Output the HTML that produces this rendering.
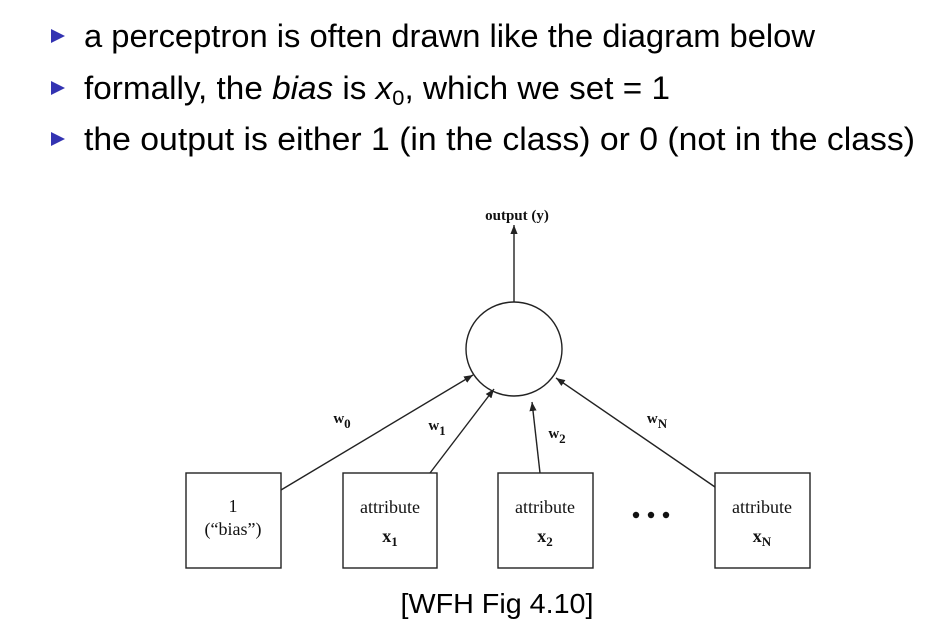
<!DOCTYPE html>
<html><head><meta charset="utf-8"><style>
html,body{margin:0;padding:0;background:#fff;}
svg{display:block;}
</style></head><body>
<svg width="948" height="624" viewBox="0 0 948 624" xmlns="http://www.w3.org/2000/svg">
<defs>
<marker id="ah" viewBox="0 0 10 10" refX="10" refY="5" markerWidth="9" markerHeight="9" markerUnits="userSpaceOnUse" orient="auto">
<path d="M0,1 L10,5 L0,9 z" fill="#222"/></marker>
</defs>
<g font-family="Liberation Sans, sans-serif" font-size="32" fill="#000">
<path d="M51,29 L65,36 L51,43 z" fill="#3333b2"/>
<text x="84" y="47" textLength="731" lengthAdjust="spacingAndGlyphs">a perceptron is often drawn like the diagram below</text>
<path d="M51,81 L65,88 L51,95 z" fill="#3333b2"/>
<text x="84" y="99" textLength="586" lengthAdjust="spacingAndGlyphs">formally, the <tspan font-style="italic">bias</tspan> is <tspan font-style="italic">x</tspan><tspan font-size="21" dy="6">0</tspan><tspan dy="-6">, which we set = 1</tspan></text>
<path d="M51,132 L65,139 L51,146 z" fill="#3333b2"/>
<text x="84" y="150" textLength="831" lengthAdjust="spacingAndGlyphs">the output is either 1 (in the class) or 0 (not in the class)</text>
</g>
<g stroke="#222" stroke-width="1.4" fill="none">
<ellipse cx="514" cy="349" rx="48" ry="47"/>
<line x1="514" y1="302" x2="514" y2="225" marker-end="url(#ah)"/>
<line x1="281" y1="490" x2="473" y2="375" marker-end="url(#ah)"/>
<line x1="430" y1="473" x2="494" y2="389" marker-end="url(#ah)"/>
<line x1="540" y1="473" x2="532" y2="402" marker-end="url(#ah)"/>
<line x1="715" y1="487" x2="556" y2="378" marker-end="url(#ah)"/>
<rect x="186" y="473" width="95" height="95"/>
<rect x="343" y="473" width="94" height="95"/>
<rect x="498" y="473" width="95" height="95"/>
<rect x="715" y="473" width="95" height="95"/>
</g>
<g font-family="Liberation Serif, serif" fill="#111" text-anchor="middle" font-size="18">
<text x="517" y="220" font-weight="bold" font-size="15">output (y)</text>
<text x="233" y="512">1</text>
<text x="233" y="535">(“bias”)</text>
<text x="390" y="513">attribute</text>
<text x="390" y="542" font-weight="bold">x<tspan font-size="13" dy="4">1</tspan></text>
<text x="545" y="513">attribute</text>
<text x="545" y="542" font-weight="bold">x<tspan font-size="13" dy="4">2</tspan></text>
<text x="762" y="513">attribute</text>
<text x="762" y="542" font-weight="bold">x<tspan font-size="13" dy="4">N</tspan></text>
<text x="342" y="423" font-weight="bold" font-size="15">w<tspan font-size="13" dy="5">0</tspan></text>
<text x="437" y="430" font-weight="bold" font-size="15">w<tspan font-size="13" dy="5">1</tspan></text>
<text x="557" y="438" font-weight="bold" font-size="15">w<tspan font-size="13" dy="5">2</tspan></text>
<text x="657" y="423" font-weight="bold" font-size="15">w<tspan font-size="13" dy="5">N</tspan></text>
</g>
<g fill="#111">
<circle cx="636" cy="515" r="3.2"/><circle cx="651" cy="515" r="3.2"/><circle cx="666" cy="515" r="3.2"/>
</g>
<text x="497" y="613" text-anchor="middle" font-family="Liberation Sans, sans-serif" font-size="28" textLength="193" lengthAdjust="spacingAndGlyphs">[WFH Fig 4.10]</text>
</svg>
</body></html>
